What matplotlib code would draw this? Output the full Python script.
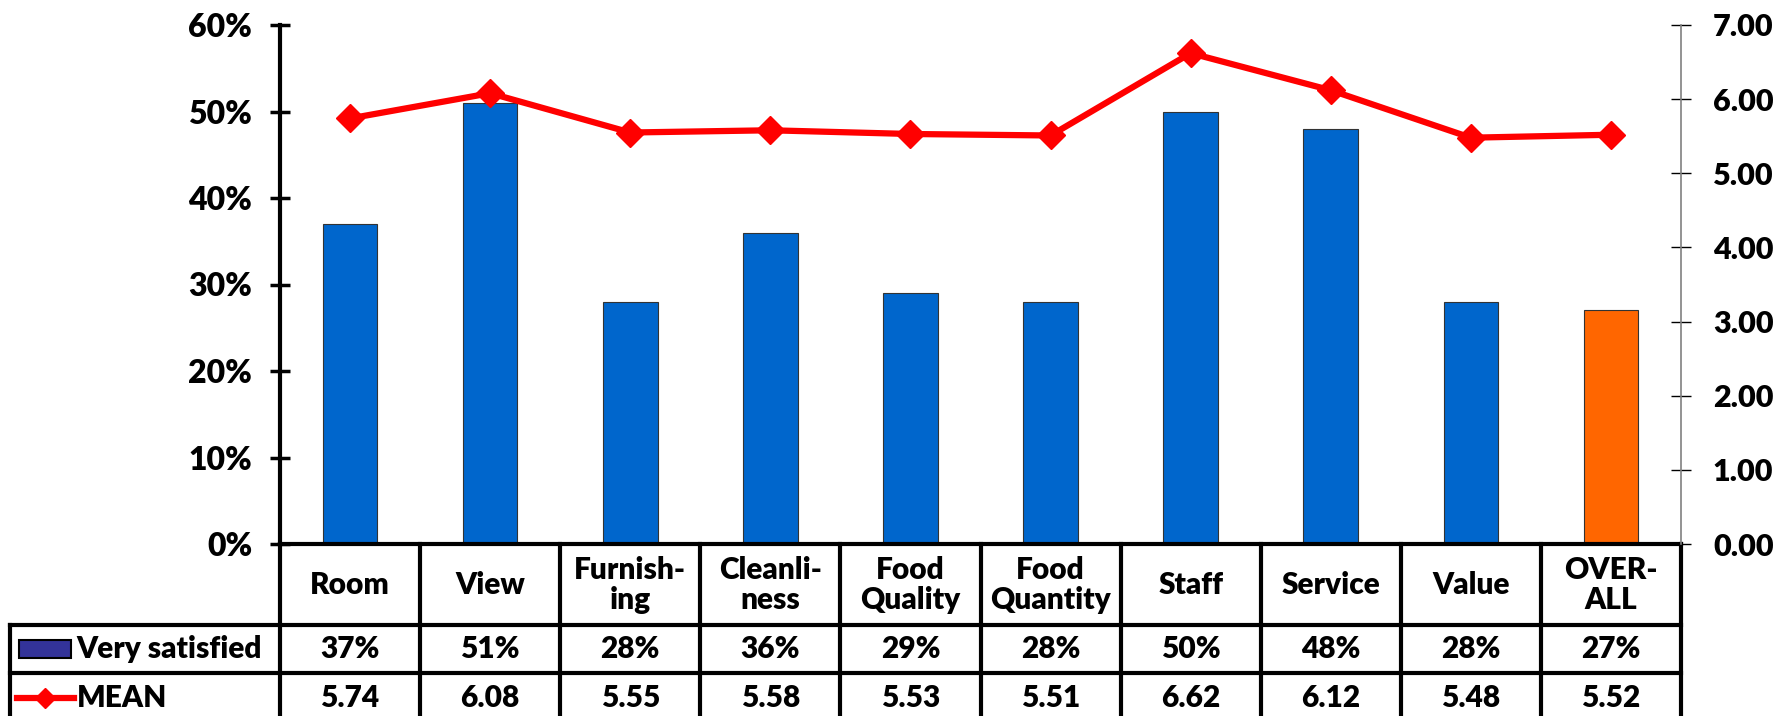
import numpy as np
import matplotlib
matplotlib.use("Agg")
import matplotlib.pyplot as plt
from matplotlib.patches import Rectangle
from matplotlib.lines import Line2D
import matplotlib.transforms as mtransforms

categories = ["Room", "View", "Furnish-\ning", "Cleanli-\nness", "Food\nQuality",
              "Food\nQuantity", "Staff", "Service", "Value", "OVER-\nALL"]
very_satisfied = [37, 51, 28, 36, 29, 28, 50, 48, 28, 27]
mean = [5.74, 6.08, 5.55, 5.58, 5.53, 5.51, 6.62, 6.12, 5.48, 5.52]
bar_colors = ["#0066CC"] * 9 + ["#FF6600"]

plt.rcParams['font.family'] = ['Lato', 'DejaVu Sans']
W = 'heavy'

fig = plt.figure(figsize=(17.89, 7.16), dpi=100)
ax = fig.add_axes([280 / 1789, (716 - 544) / 716, (1681 - 280) / 1789, 519 / 716])

x = np.arange(len(categories))
ax.bar(x, very_satisfied, width=0.39, color=bar_colors, edgecolor="#333333", linewidth=0.8, zorder=2)
ax.set_xlim(-0.5, len(categories) - 0.5)
ax.set_ylim(0, 60)
ax.set_yticks(range(0, 61, 10))
ax.set_yticklabels([f"{v}%" for v in range(0, 61, 10)], fontsize=23, fontweight=W)
ax.set_xticks([])
for s in ["top", "right"]:
    ax.spines[s].set_visible(False)
ax.spines["left"].set_linewidth(3)
ax.spines["bottom"].set_linewidth(3)
ax.tick_params(axis='y', direction='inout', length=14, width=2.5, pad=13)

ax2 = ax.twinx()
ax2.plot(x, mean, color="#FF0000", lw=4.5, marker="D", markersize=14, zorder=5)
ax2.set_ylim(0, 7)
ax2.set_yticks(range(0, 8))
ax2.set_yticklabels([f"{v:.2f}" for v in range(0, 8)], fontsize=22, fontweight=W)
for s in ["top", "left", "bottom"]:
    ax2.spines[s].set_visible(False)
ax2.spines["right"].set_color("#808080")
ax2.spines["right"].set_linewidth(1.2)
ax2.tick_params(axis='y', direction='inout', length=14, width=1, pad=16)

# data table under the axis
trans = mtransforms.blended_transform_factory(ax.transData, ax.transAxes)
y_h, y_r1, y_r2, y_bot = 0.0, -0.156, -0.249, -0.36
x_left = -2.43
lk = dict(color="black", lw=3, transform=trans, clip_on=False)
for b in np.arange(-0.5, len(categories), 1.0):
    ax.add_line(Line2D([b, b], [y_h, y_bot], **lk))
ax.add_line(Line2D([x_left, len(categories) - 0.5], [y_r1, y_r1], **lk))
ax.add_line(Line2D([x_left, len(categories) - 0.5], [y_r2, y_r2], **lk))
ax.add_line(Line2D([x_left, x_left], [y_r1, y_bot], **lk))

fs = 21.5
for i, c in enumerate(categories):
    ax.text(i, -0.079, c, transform=trans, ha='center', va='center', fontsize=fs,
            fontweight=W, linespacing=1.1, clip_on=False)
    ax.text(i, -0.203, f"{very_satisfied[i]}%", transform=trans, ha='center', va='center',
            fontsize=fs, fontweight=W, clip_on=False)
    ax.text(i, -0.297, f"{mean[i]:.2f}", transform=trans, ha='center', va='center',
            fontsize=fs, fontweight=W, clip_on=False)

# legend keys in the table
ax.add_patch(Rectangle((-2.36, -0.22), 0.37, 0.035, transform=trans, facecolor="#333399",
                       edgecolor="black", lw=1.5, clip_on=False))
ax.text(-1.95, -0.203, "Very satisfied", transform=trans, ha='left', va='center',
        fontsize=fs, fontweight=W, clip_on=False)
ax.add_line(Line2D([-2.38, -1.97], [-0.297, -0.297], color="#FF0000", lw=4.5, transform=trans,
                   clip_on=False))
ax.add_line(Line2D([-2.175], [-0.297], color="#FF0000", marker="D", markersize=10,
                   transform=trans, clip_on=False))
ax.text(-1.95, -0.297, "MEAN", transform=trans, ha='left', va='center',
        fontsize=fs, fontweight=W, clip_on=False)

fig.savefig("out.png", dpi=100)
